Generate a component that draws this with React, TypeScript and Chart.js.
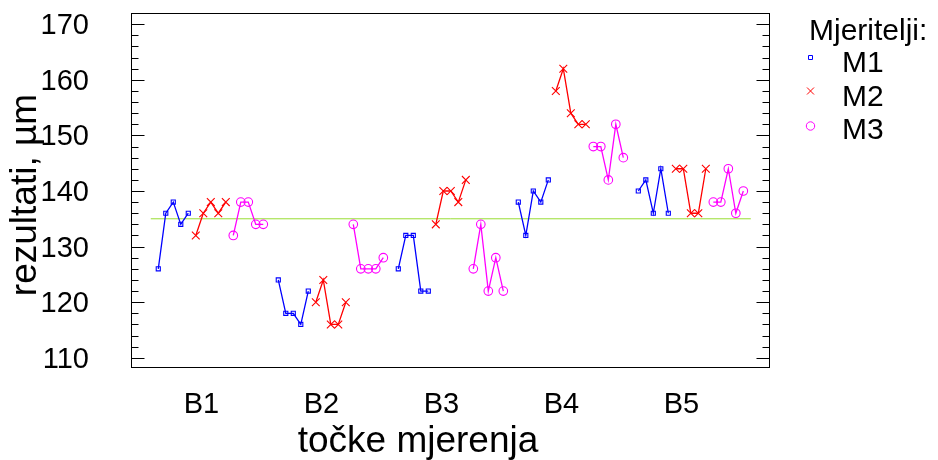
import React, { useEffect, useRef } from 'react';
import { Chart, registerables } from 'chart.js';

Chart.register(...registerables);

const groups = ['B1', 'B2', 'B3', 'B4', 'B5'];
const measurers = ['M1', 'M2', 'M3'];
const m1Values = [
  [126, 136, 138, 134, 136],
  [124, 118, 118, 116, 122],
  [126, 132, 132, 122, 122],
  [138, 132, 140, 138, 142],
  [140, 142, 136, 144, 136],
];
const m2Values = [
  [132, 136, 138, 136, 138],
  [120, 124, 116, 116, 120],
  [134, 140, 140, 138, 142],
  [158, 162, 154, 152, 152],
  [144, 144, 136, 136, 144],
];
const m3Values = [
  [132, 138, 138, 134, 134],
  [134, 126, 126, 126, 128],
  [126, 134, 122, 128, 122],
  [148, 148, 142, 152, 146],
  [138, 138, 144, 136, 140],
];
const referenceValue = 135;
const yTickValues = [110, 120, 130, 140, 150, 160, 170];
const seriesColors = ['#0000ff', '#ff0000', '#ff00ff'];
const refColor = '#99dd33';
const FONT = '"Liberation Sans", Arial, Helvetica, sans-serif';

function buildSeries(values: number[][], m: number) {
  const pts: { x: number; y: number | null }[] = [];
  values.forEach((grp, g) => {
    grp.forEach((v, p) => pts.push({ x: 1 + 16 * g + 5 * m + p, y: v }));
    pts.push({ x: 1 + 16 * g + 5 * m + 5, y: null });
  });
  return pts;
}

function drawMarker(ctx: CanvasRenderingContext2D, kind: number, x: number, y: number) {
  ctx.save();
  ctx.strokeStyle = seriesColors[kind];
  ctx.lineWidth = 1;
  ctx.beginPath();
  if (kind === 0) {
    ctx.rect(x - 2, y - 2, 4, 4);
  } else if (kind === 1) {
    ctx.moveTo(x - 3.5, y - 3.5);
    ctx.lineTo(x + 3.5, y + 3.5);
    ctx.moveTo(x - 3.5, y + 3.5);
    ctx.lineTo(x + 3.5, y - 3.5);
  } else {
    ctx.arc(x, y, 4.2, 0, Math.PI * 2);
  }
  ctx.stroke();
  ctx.restore();
}

const framePlugin = {
  id: 'framePlugin',
  afterDraw(chart: any) {
    const { ctx, chartArea } = chart;
    const ys = chart.scales.y;
    const { left, right, top, bottom } = chartArea;
    ctx.save();
    ctx.strokeStyle = '#000';
    ctx.lineWidth = 1;
    ctx.strokeRect(left, top, right - left, bottom - top);
    ctx.beginPath();
    for (let v = 110; v <= ys.max; v += 2) {
      const py = Math.round(ys.getPixelForValue(v)) + 0.5;
      const len = v % 10 === 0 ? 13 : 7;
      ctx.moveTo(left, py);
      ctx.lineTo(left + len, py);
      ctx.moveTo(right, py);
      ctx.lineTo(right - len, py);
    }
    ctx.stroke();

    ctx.fillStyle = '#000';
    ctx.font = `37px ${FONT}`;
    ctx.textAlign = 'center';
    ctx.textBaseline = 'alphabetic';
    ctx.fillText('točke mjerenja', 418, 452);
    ctx.save();
    ctx.translate(36, 195);
    ctx.rotate(-Math.PI / 2);
    ctx.fillText('rezultati, µm', 0, 0);
    ctx.restore();

    ctx.textAlign = 'left';
    ctx.font = `30px ${FONT}`;
    ctx.fillText('Mjeritelji:', 809, 40);
    const baselines = [72, 105.5, 139];
    const markY = [57.5, 91, 126];
    measurers.forEach((m, i) => {
      ctx.fillStyle = '#000';
      ctx.fillText(m, 842, baselines[i]);
      drawMarker(ctx, i, 810.5, markY[i]);
    });
    ctx.restore();
  },
};

export default function App() {
  const ref = useRef<HTMLCanvasElement | null>(null);
  useEffect(() => {
    if (!ref.current) return;
    const common = {
      showLine: true,
      spanGaps: false,
      borderWidth: 1.3,
      pointBorderWidth: 1.1,
      pointBackgroundColor: 'rgba(0,0,0,0)',
      fill: false,
      tension: 0,
    };
    const chart = new Chart(ref.current, {
      type: 'line',
      data: {
        datasets: [
          {
            ...common,
            label: 'ref',
            data: [
              { x: 0, y: referenceValue },
              { x: 80, y: referenceValue },
            ],
            borderColor: refColor,
            borderWidth: 1,
            pointRadius: 0,
            order: 10,
          },
          {
            ...common,
            label: measurers[0],
            data: buildSeries(m1Values, 0),
            borderColor: seriesColors[0],
            pointBorderColor: seriesColors[0],
            pointStyle: 'rect',
            pointRadius: 2.9,
            order: 1,
          },
          {
            ...common,
            label: measurers[1],
            data: buildSeries(m2Values, 1),
            borderColor: seriesColors[1],
            pointBorderColor: seriesColors[1],
            pointStyle: 'crossRot',
            pointRadius: 5.5,
            order: 1,
          },
          {
            ...common,
            label: measurers[2],
            data: buildSeries(m3Values, 2),
            borderColor: seriesColors[2],
            pointBorderColor: seriesColors[2],
            pointStyle: 'circle',
            pointRadius: 4.3,
            order: 1,
          },
        ] as any,
      },
      options: {
        responsive: false,
        animation: false,
        events: [],
        layout: { padding: { left: 0, top: 13.5, right: 938 - 769.5, bottom: 0 } },
        plugins: { legend: { display: false }, tooltip: { enabled: false } },
        scales: {
          x: {
            type: 'linear',
            min: -2.57,
            max: 82.49,
            grid: { display: false },
            border: { display: false },
            afterBuildTicks: (s: any) => {
              s.ticks = groups.map((_, g) => ({ value: 6.75 + 16 * g }));
            },
            afterFit: (s: any) => {
              s.height = 92.5;
              s.paddingLeft = 0;
              s.paddingRight = 0;
            },
            ticks: {
              autoSkip: false,
              maxRotation: 0,
              minRotation: 0,
              padding: 12.5,
              color: '#000',
              font: { family: FONT, size: 29 },
              callback: (_v: any, i: number) => groups[i],
            },
          },
          y: {
            type: 'linear',
            min: 108.25,
            max: 171.93,
            grid: { display: false },
            border: { display: false },
            afterBuildTicks: (s: any) => {
              s.ticks = yTickValues.map((v) => ({ value: v }));
            },
            afterFit: (s: any) => {
              s.width = 131.5;
              s.paddingTop = 0;
              s.paddingBottom = 0;
            },
            ticks: {
              padding: 34.5,
              labelOffset: 2,
              color: '#000',
              font: { family: FONT, size: 29 },
              callback: (v: any) => String(v),
            },
          },
        },
      } as any,
      plugins: [framePlugin],
    });
    return () => chart.destroy();
  }, []);
  return (
    <div style={{ position: 'absolute', left: 0, top: 0, width: 938, height: 460, background: '#fff' }}>
      <canvas ref={ref} width={938} height={460} style={{ display: 'block' }} />
    </div>
  );
}
